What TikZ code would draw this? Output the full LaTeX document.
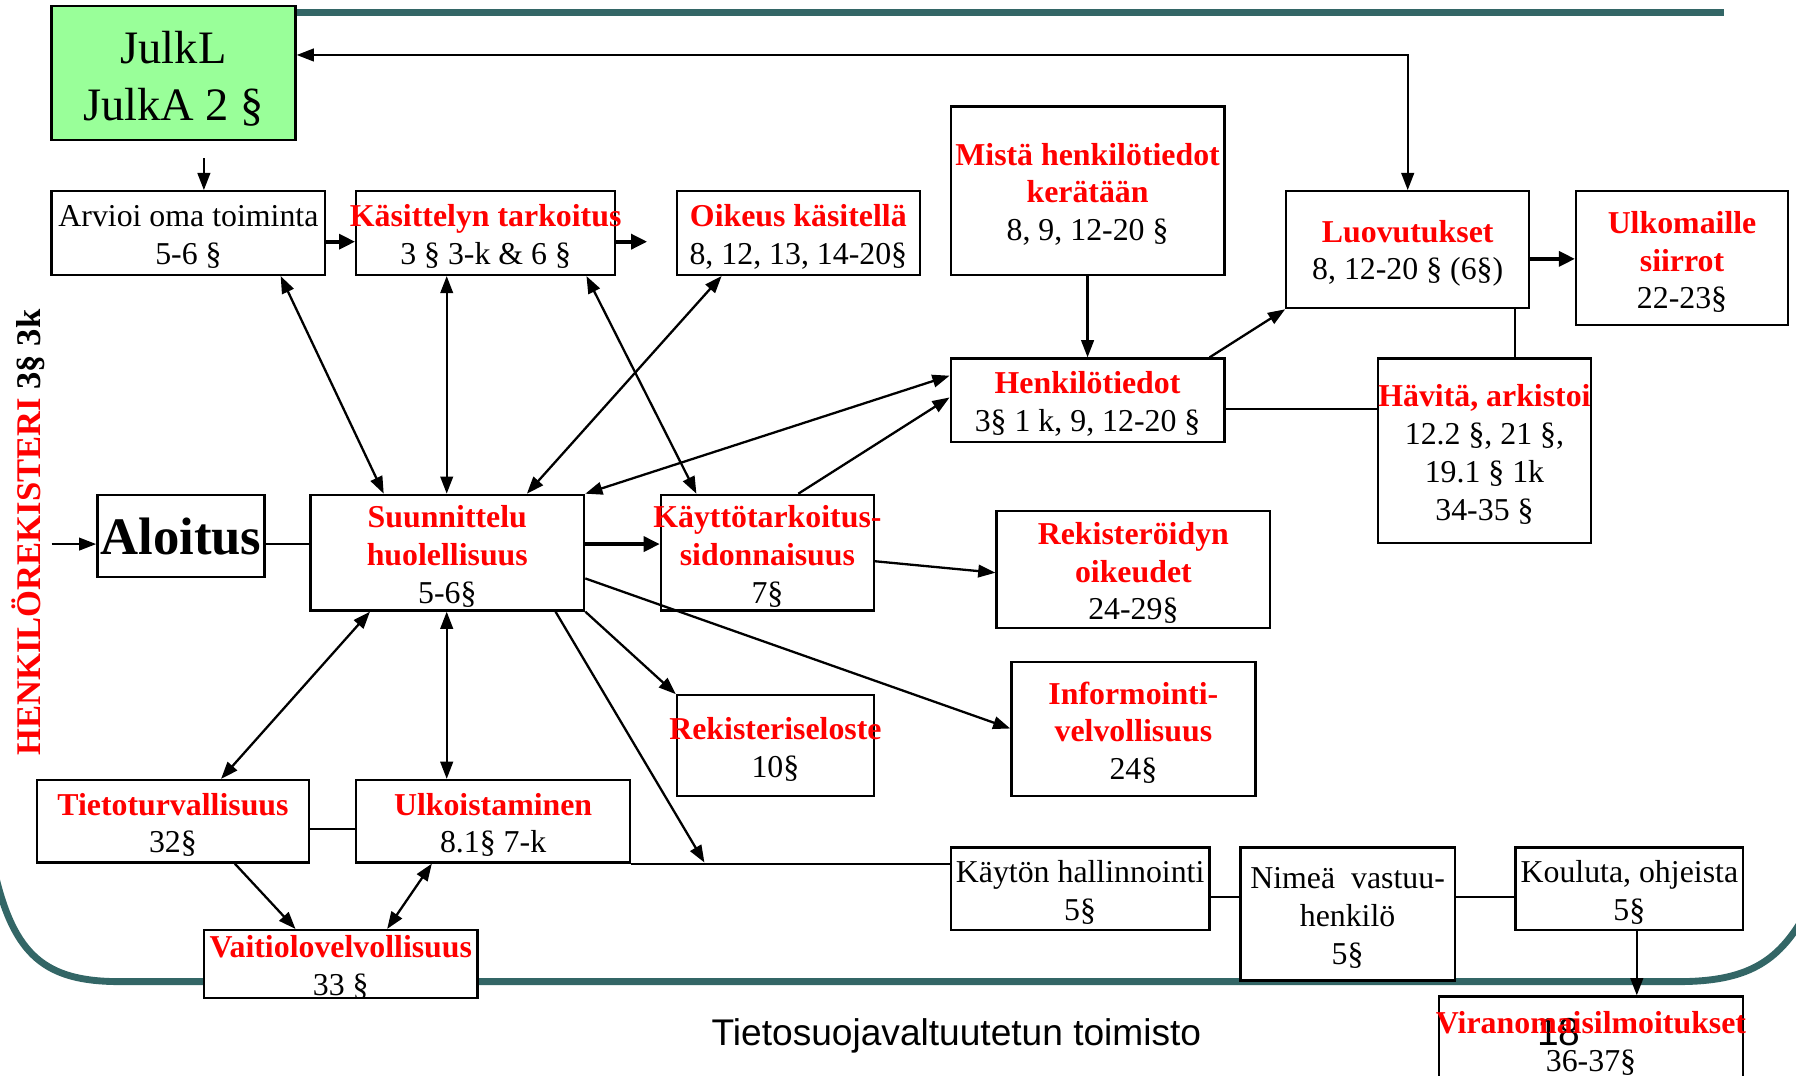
\documentclass[tikz,border=0pt]{standalone}
\usepackage{fontspec}
\setmainfont{Liberation Serif}
\newfontfamily\footfont{Liberation Sans}
\usetikzlibrary{arrows.meta}
\definecolor{tealline}{RGB}{51,102,102}
\definecolor{lgreen}{RGB}{153,255,153}
\newcommand{\myl}[1]{\raisebox{-1.6pt}[\height][\depth]{\makebox[0pt]{#1}}}
\newcommand{\mybig}[1]{\raisebox{-2.5pt}[\height][\depth]{#1}}
\newcommand{\redb}[1]{\textcolor{red}{\bfseries #1}}
\begin{document}
\begin{tikzpicture}[x=0.5pt,y=-0.5pt,
  box/.style={draw=black, line width=1pt, fill=white, inner sep=0pt, align=center,
    font=\fontsize{13.9pt}{16.5pt}\selectfont},
  sz/.style 2 args={minimum width=#1*0.5pt, minimum height=#2*0.5pt},
  arr/.style={line width=1pt, -{Triangle[length=7.5pt,width=5.5pt]}},
  darr/.style={line width=1pt, {Triangle[length=7.5pt,width=5.5pt]}-{Triangle[length=7.5pt,width=5.5pt]}},
  thk/.style={line width=1.6pt, -{Triangle[length=7pt,width=6.5pt]}},
  plain/.style={line width=0.8pt},
  tealborder/.style={draw=tealline, line width=3pt}
]
\useasboundingbox (0,0) rectangle (1568,939);

% teal frame
\draw[tealborder] (258,11) -- (1505,11);
\draw[tealborder] (-5,760) .. controls (12,835) and (40,857) .. (105,857) -- (1465,857)
   .. controls (1525,857) and (1552,840) .. (1575,800);

% page number (under the red text)
\node[font=\footfont\fontsize{17pt}{20pt}\selectfont] (pnum) at (1361,901) {18};

% boxes
\node[box, fill=lgreen, sz={213}{117}, font=\fontsize{20.3pt}{25pt}\selectfont] (julk) at (151.5,63.5) {\mybig{JulkL}\\\mybig{JulkA 2 §}};
\node[box, sz={239}{73}] (arvioi) at (164.5,203.5) {\myl{Arvioi oma toiminta}\\\myl{5-6 §}};
\node[box, sz={226}{73}] (kasit) at (424,203.5) {\myl{\redb{Käsittelyn tarkoitus}}\\\myl{3 § 3-k \& 6 §}};
\node[box, sz={212}{73}] (oikeus) at (697,203.5) {\myl{\redb{Oikeus käsitellä}}\\\myl{8, 12, 13, 14-20§}};
\node[box, sz={239}{147}] (mista) at (949.5,166.5) {\myl{\redb{Mistä henkilötiedot}}\\\myl{\redb{kerätään}}\\\myl{8, 9, 12-20 §}};
\node[box, sz={212}{102}] (luov) at (1229,218) {\myl{\redb{Luovutukset}}\\\myl{8, 12-20 § (6§)}};
\node[box, sz={185}{117}] (ulko) at (1468.5,225.5) {\myl{\redb{Ulkomaille}}\\\myl{\redb{siirrot}}\\\myl{22-23§}};
\node[box, sz={239}{73}] (henk) at (949.5,349.5) {\myl{\redb{Henkilötiedot}}\\\myl{3§ 1 k, 9, 12-20 §}};
\node[box, sz={186}{161}] (havita) at (1296,393.5) {\myl{\redb{Hävitä, arkistoi}}\\\myl{12.2 §, 21 §,}\\\myl{19.1 § 1k}\\\myl{34-35 §}};
\node[box, sz={146}{72}, font=\fontsize{23pt}{27pt}\selectfont\bfseries] (aloitus) at (158,468) {Aloitus};
\node[box, sz={239}{101}] (suun) at (390.5,482.5) {\myl{\redb{Suunnittelu}}\\\myl{\redb{huolellisuus}}\\\myl{5-6§}};
\node[box, sz={186}{101}] (kaytto) at (670,482.5) {\myl{\redb{Käyttötarkoitus-}}\\\myl{\redb{sidonnaisuus}}\\\myl{7§}};
\node[box, sz={239}{102}] (rekoik) at (989.5,497) {\myl{\redb{Rekisteröidyn}}\\\myl{\redb{oikeudet}}\\\myl{24-29§}};
\node[box, sz={213}{117}] (inform) at (989.5,636.5) {\myl{\redb{Informointi-}}\\\myl{\redb{velvollisuus}}\\\myl{24§}};
\node[box, sz={172}{88}] (rekselo) at (677,651) {\myl{\redb{Rekisteriseloste}}\\\myl{10§}};
\node[box, sz={238}{72}] (tieto) at (151,717) {\myl{\redb{Tietoturvallisuus}}\\\myl{32§}};
\node[box, sz={239}{72}] (ulkois) at (430.5,717) {\myl{\redb{Ulkoistaminen}}\\\myl{8.1§ 7-k}};
\node[box, sz={239}{59}] (vaitio) at (297.5,841.5) {\myl{\redb{Vaitiolovelvollisuus}}\\\myl{33 §}};
\node[box, sz={226}{72}] (kayton) at (943,776) {\myl{Käytön hallinnointi}\\\myl{5§}};
\node[box, sz={187}{116}] (nimea) at (1176.5,798) {\myl{Nimeä\ \ vastuu-}\\\myl{henkilö}\\\myl{5§}};
\node[box, sz={199}{72}] (kouluta) at (1422.5,776) {\myl{Kouluta, ohjeista}\\\myl{5§}};
\node[box, fill=none, sz={266}{75}] (viran) at (1389,907.5) {\myl{\redb{Viranomaisilmoitukset}}\\\myl{36-37§}};

% side and footer texts
\node[rotate=90, font=\fontsize{15.1pt}{17pt}\selectfont\bfseries] (hreg) at (25,465) {\textcolor{red}{HENKILÖREKISTERI} 3§ 3k};
\node[font=\footfont\fontsize{16.2pt}{19pt}\selectfont] (foot) at (835,904) {Tietosuojavaltuutetun toimisto};

% free ends
\coordinate (g1) at (178,138);
\coordinate (kfree) at (565,211);
\coordinate (ain) at (45,475);
\coordinate (lnA) at (615,753);

% connectors
\draw[arr] (g1) -- (g1 |- arvioi.north);
\draw[thk] (arvioi.east |- 0,211) -- (kasit.west |- 0,211);
\draw[thk] (kasit.east |- 0,211) -- (kfree);
\draw[darr] (julk.east |- 0,48) -| (luov.north);
\draw[arr] (mista.south) -- (henk.north);
\draw[thk] (luov.east |- 0,226) -- (ulko.west |- 0,226);
\draw[arr] (henk.north -| 1056,0) -- (luov.south west);
\draw[plain] (henk.east |- 0,357) -- (havita.west |- 0,357);
\draw[plain] (luov.south -| 1323,0) -- (havita.north -| 1323,0);
\draw[arr] (ain) -- (aloitus.west |- ain);
\draw[plain] (aloitus.east |- 0,475) -- (suun.west |- 0,475);
\draw[thk] (suun.east |- 0,475) -- (kaytto.west |- 0,475);
\draw[arr] (kaytto.east |- 0,490) -- (rekoik.west |- 0,500);
\draw[darr] (arvioi.south -| 245,0) -- (suun.north -| 335,0);
\draw[darr] (kasit.south -| 390,0) -- (suun.north -| 390,0);
\draw[darr] (kasit.south -| 512,0) -- (kaytto.north -| 608,0);
\draw[darr] (oikeus.south -| 630,0) -- (suun.north -| 460,0);
\draw[darr] (henk.west |- 0,328) -- (suun.north east);
\draw[arr] (kaytto.north -| 697,0) -- (henk.west |- 0,347);
\draw[arr] (suun.east |- 0,505) -- (inform.west |- 0,636);
\draw[arr] (suun.south east) -- (rekselo.north west);
\draw[arr] (suun.south -| 485,0) -- (lnA);
\draw[darr] (suun.south -| 323,0) -- (tieto.north -| 193,0);
\draw[darr] (suun.south -| 390,0) -- (ulkois.north -| 390,0);
\draw[plain] (tieto.east |- 0,724) -- (ulkois.west |- 0,724);
\draw[arr] (tieto.south -| 205,0) -- (vaitio.north -| 258,0);
\draw[darr] (ulkois.south -| 377,0) -- (vaitio.north -| 338,0);
\draw[plain] (ulkois.south east) -- (kayton.west |- ulkois.south east);
\draw[plain] (kayton.east |- 0,783) -- (nimea.west |- 0,783);
\draw[plain] (nimea.east |- 0,783) -- (kouluta.west |- 0,783);
\draw[arr] (kouluta.south -| 1429,0) -- (viran.north -| 1429,0);
\end{tikzpicture}
\end{document}
